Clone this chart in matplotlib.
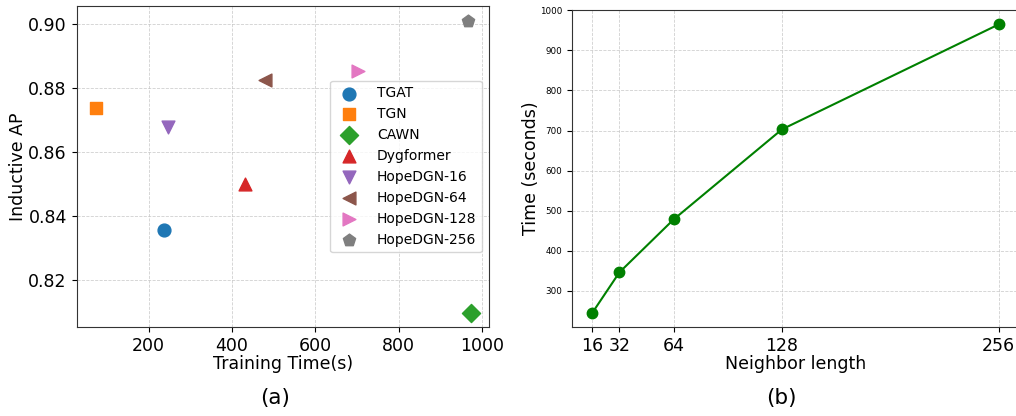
import numpy as np
from matplotlib import pyplot as plt

# (a) training time vs inductive AP
models = ['TGAT', 'TGN', 'CAWN', 'Dygformer', 'HopeDGN-16', 'HopeDGN-64', 'HopeDGN-128', 'HopeDGN-256']
train_time = [238, 73, 974, 432, 246, 480, 702, 966]
inductive_ap = [0.8356, 0.8737, 0.8097, 0.8502, 0.8678, 0.8825, 0.8854, 0.9009]
markers = ['o', 's', 'D', '^', 'v', '<', '>', 'p']
colors = ['#1f77b4', '#ff7f0e', '#2ca02c', '#d62728', '#9467bd', '#8c564b', '#e377c2', '#7f7f7f']

# (b) neighbor length vs time
neighbor_len = [16, 32, 64, 128, 256]
time_sec = [245, 346, 478, 703, 965]

fig = plt.figure(figsize=(10.16, 4.16), dpi=100)
ax1 = fig.add_axes([0.0753, 0.214, 0.4060, 0.7716])
ax2 = fig.add_axes([0.5630, 0.214, 0.4400, 0.7620])

for i in range(len(models)):
    ax1.scatter(train_time[i], inductive_ap[i], marker=markers[i], c=colors[i], s=85, label=models[i], zorder=3)
ax1.set_xlim(27, 1017)
ax1.set_ylim(0.8054, 0.9057)
ax1.set_xticks([200, 400, 600, 800, 1000])
ax1.set_yticks([0.82, 0.84, 0.86, 0.88, 0.90])
ax1.tick_params(labelsize=12.5)
ax1.set_xlabel('Training Time(s)', fontsize=12.5, labelpad=0)
ax1.set_ylabel('Inductive AP', fontsize=12.5, labelpad=0.5)
ax1.grid(True, linestyle='--', color='#c4c4c4', linewidth=0.6, alpha=0.8)
ax1.legend(loc='center right', fontsize=10, labelspacing=0.5, handletextpad=1.0)

ax2.plot(neighbor_len, time_sec, color='green', marker='o', markersize=7.5, linewidth=1.5, zorder=3)
ax2.set_xticks(neighbor_len)
ax2.set_yticks([300, 400, 500, 600, 700, 800, 900, 1000])
ax2.set_ylim(209.6, 1001)
ax2.tick_params(axis='x', labelsize=12.5)
ax2.tick_params(axis='y', labelsize=6.3)
ax2.set_xlabel('Neighbor length', fontsize=12.5, labelpad=0)
ax2.set_ylabel('Time (seconds)', fontsize=12.5, labelpad=0)
ax2.grid(True, linestyle='--', color='#c4c4c4', linewidth=0.6, alpha=0.8)

for ax in (ax1, ax2):
    for s in ax.spines.values():
        s.set_color('#333333')

fig.text(0.271, 0.043, '(a)', fontsize=15.5, ha='center', va='center')
fig.text(0.769, 0.043, '(b)', fontsize=15.5, ha='center', va='center')

plt.savefig('out.png', dpi=100)
